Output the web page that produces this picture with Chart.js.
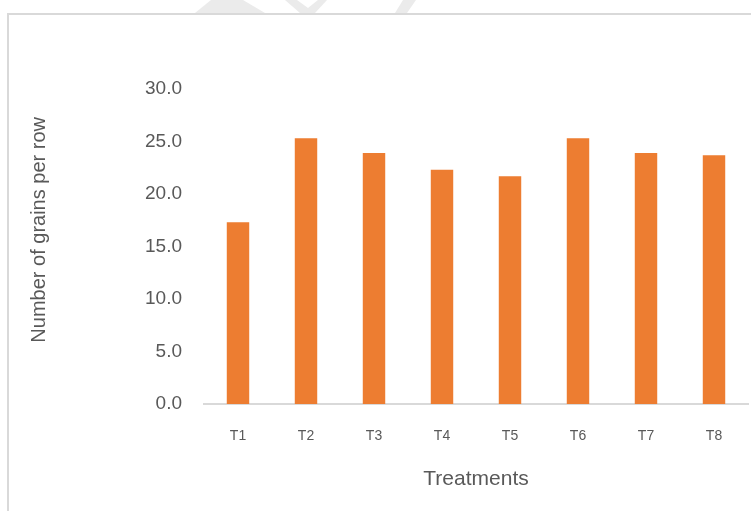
<!DOCTYPE html>
<html>
<head>
<meta charset="utf-8">
<script src="https://cdn.jsdelivr.net/npm/chart.js@4"></script>
<style>
  body { margin: 0; background: #fff; }
  #wrap { width: 751px; height: 511px; position: relative; }
</style>
</head>
<body>
<div id="wrap"><canvas id="grainChart" width="751" height="511"></canvas></div>
<script>
// Data
const treatments = ["T1", "T2", "T3", "T4", "T5", "T6", "T7", "T8"];
const grainsPerRow = [17.3, 25.3, 23.9, 22.3, 21.7, 25.3, 23.9, 23.7];
const yTicks = [0, 5, 10, 15, 20, 25, 30];

const FONT = "'Liberation Sans', Arial, sans-serif";
const TEXT_GREY = "#595959";

// Frame of the chart box and the faint watermark pieces at the top edge
const framePlugin = {
  id: "frame",
  beforeDraw(chart) {
    const ctx = chart.ctx;
    ctx.save();
    ctx.fillStyle = "#fff";
    ctx.fillRect(0, 0, chart.width, chart.height);
    // watermark fragments
    ctx.fillStyle = "#ebebeb";
    ctx.beginPath();
    ctx.moveTo(195, 13); ctx.lineTo(211, 0); ctx.lineTo(243, 0); ctx.lineTo(265, 13);
    ctx.closePath(); ctx.fill();
    ctx.beginPath();
    ctx.moveTo(285, 0); ctx.lineTo(300, 13); ctx.lineTo(315, 13); ctx.lineTo(327, 0);
    ctx.lineTo(318, 0); ctx.lineTo(308, 8); ctx.lineTo(297, 0);
    ctx.closePath(); ctx.fill();
    ctx.beginPath();
    ctx.moveTo(395, 13); ctx.lineTo(403, 0); ctx.lineTo(416, 0); ctx.lineTo(407, 13);
    ctx.closePath(); ctx.fill();
    // chart border
    ctx.strokeStyle = "#d9d9d9";
    ctx.lineWidth = 2;
    ctx.beginPath();
    ctx.moveTo(8, chart.height + 2);
    ctx.lineTo(8, 14);
    ctx.lineTo(chart.width + 2, 14);
    ctx.stroke();
    ctx.restore();
  }
};

new Chart(document.getElementById("grainChart").getContext("2d"), {
  type: "bar",
  data: {
    labels: treatments,
    datasets: [{
      data: grainsPerRow,
      backgroundColor: "#ED7D31",
      borderWidth: 0,
      barPercentage: 0.33,
      categoryPercentage: 1
    }]
  },
  options: {
    responsive: false,
    animation: false,
    events: [],
    layout: { padding: { top: 89, right: 3, bottom: 0, left: 0 } },
    plugins: { legend: { display: false }, tooltip: { enabled: false } },
    scales: {
      x: {
        grid: { display: false, drawTicks: false },
        border: { display: true, color: "#d9d9d9", width: 2 },
        ticks: { color: TEXT_GREY, font: { family: FONT, size: 14 }, padding: 24 },
        title: {
          display: true,
          text: "Treatments",
          color: TEXT_GREY,
          font: { family: FONT, size: 21 },
          padding: { top: 19, bottom: 19 }
        },
        afterFit(scale) { scale.height = 107; }
      },
      y: {
        min: 0,
        max: 30,
        grid: { display: false, drawTicks: false },
        border: { display: false },
        afterBuildTicks(scale) { scale.ticks = yTicks.map(v => ({ value: v })); },
        ticks: {
          color: TEXT_GREY,
          font: { family: FONT, size: 19 },
          padding: 22,
          callback: v => Number(v).toFixed(1)
        },
        title: {
          display: true,
          text: "      Number of grains per row",
          color: TEXT_GREY,
          font: { family: FONT, size: 20 },
          padding: { top: 27, bottom: 27 }
        },
        afterFit(scale) { scale.width = 204; }
      }
    }
  },
  plugins: [framePlugin]
});
</script>
</body>
</html>
